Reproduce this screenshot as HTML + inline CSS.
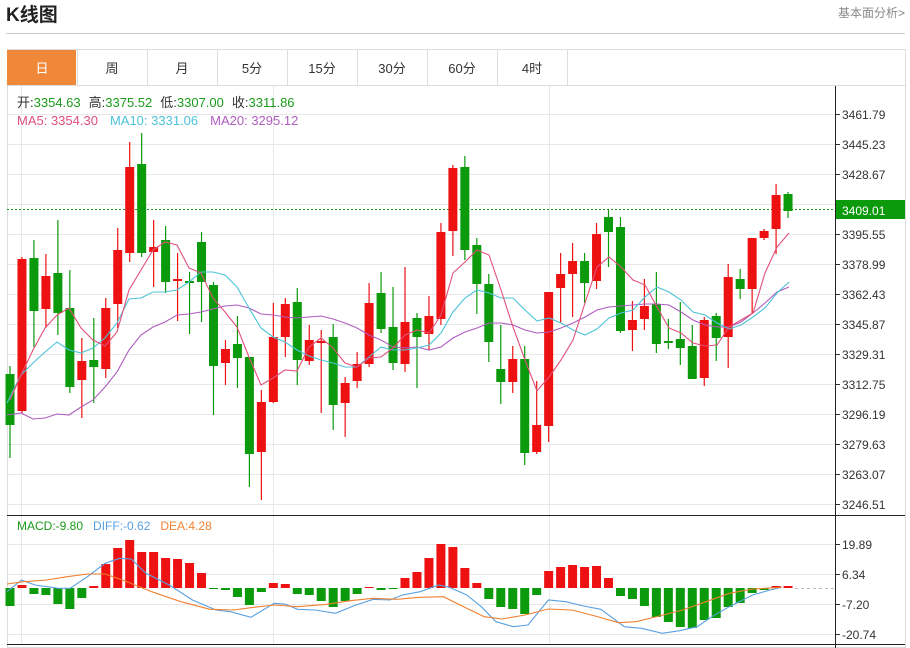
<!DOCTYPE html>
<html><head><meta charset="utf-8"><style>
body{margin:0;width:910px;height:648px;background:#fff;overflow:hidden;font-family:"Liberation Sans","Noto Sans CJK SC",sans-serif;}
</style></head><body>
<svg id="s" width="910" height="648" xmlns="http://www.w3.org/2000/svg" style="position:absolute;left:0;top:0;font-family:'Liberation Sans','Noto Sans CJK SC',sans-serif">
<text x="6" y="21" font-size="19" font-weight="bold" fill="#222">K线图</text>
<text x="838" y="17" font-size="12" fill="#888">基本面分析&gt;</text>
<line x1="6" y1="33.5" x2="905" y2="33.5" stroke="#ccc"/>
<rect x="7.5" y="49.5" width="898" height="598" fill="none" stroke="#ddd"/>
<line x1="7" y1="85.5" x2="905" y2="85.5" stroke="#ddd"/>
<rect x="7" y="50" width="69" height="35" fill="#f0883a"/>
<g id="tabs"></g>
<g id="g"></g>
</svg>
<script>
var s=document.getElementById('g'),h='';
var tabs=['日','周','月','5分','15分','30分','60分','4时'];
var th='';
for(var i=0;i<8;i++){var x=7+i*70;th+='<text x="'+(x+35)+'" y="73" font-size="13" text-anchor="middle" fill="'+(i==0?'#fff':'#333')+'">'+tabs[i]+'</text>';
th+='<line x1="'+(x+70.5)+'" y1="50" x2="'+(x+70.5)+'" y2="85" stroke="#ddd"/>';}
document.getElementById('tabs').innerHTML=th;
// grid
var pl=['3461.79','3445.23','3428.67','3412.11','3395.55','3378.99','3362.43','3345.87','3329.31','3312.75','3296.19','3279.63','3263.07','3246.51'];
for(var i=0;i<14;i++){var y=114+i*30;h+='<line x1="7" y1="'+(y+.5)+'" x2="835" y2="'+(y+.5)+'" stroke="#e8e8e8"/>';
h+='<line x1="835" y1="'+(y+.5)+'" x2="840" y2="'+(y+.5)+'" stroke="#333"/><text x="842" y="'+(y+5)+'" font-size="12" fill="#333">'+pl[i]+'</text>';}
var ml=['19.89','6.34','-7.20','-20.74'];
for(var i=0;i<4;i++){var y=544+i*30;h+='<line x1="7" y1="'+(y+.5)+'" x2="835" y2="'+(y+.5)+'" stroke="#e8e8e8"/>';
h+='<line x1="835" y1="'+(y+.5)+'" x2="840" y2="'+(y+.5)+'" stroke="#333"/><text x="842" y="'+(y+5)+'" font-size="12" fill="#333">'+ml[i]+'</text>';}
[21,273,549].forEach(function(x){h+='<line x1="'+(x+.5)+'" y1="86" x2="'+(x+.5)+'" y2="644" stroke="#e8e8e8"/>';});
h+='<line x1="7" y1="515.5" x2="905" y2="515.5" stroke="#222"/><line x1="7" y1="644.5" x2="905" y2="644.5" stroke="#222"/>';
h+='<line x1="835.5" y1="86" x2="835.5" y2="648" stroke="#222"/>';
h+='<line x1="7" y1="209.5" x2="835" y2="209.5" stroke="#1a9a1a" stroke-dasharray="2,2"/>';
// candles: x, bodyTop, bodyBot, wickTop, wickBot, color
var C=[[374,425,366,458,0],[259,411,257,413,1],[258,311,240,347,0],[276,309,254,328,1],[273,313,220,335,0],[308,387,270,393,0],[361,380,338,418,1],[360,367,318,403,0],[308,369,298,378,1],[250,304,228,328,1],[167,253,142,262,1],[164,253,133,257,0],[247,252,220,287,1],[240,282,226,293,0],[279,281,253,321,1],[281,283,272,334,0],[242,282,232,322,0],[285,366,282,415,0],[349,363,340,385,1],[344,358,316,388,0],[357,454,357,487,0],[402,452,390,500,1],[337,402,303,403,1],[304,337,298,357,1],[302,360,288,385,0],[340,361,325,365,1],[341,342,330,413,1],[337,405,324,430,0],[383,403,377,437,1],[364,381,352,388,1],[303,364,283,367,1],[293,329,272,333,0],[327,363,287,370,0],[322,364,267,372,1],[318,337,313,388,0],[316,334,296,350,1],[232,319,223,325,1],[168,231,165,256,1],[167,250,156,260,0],[245,284,238,314,0],[284,342,274,362,0],[369,382,325,404,0],[359,382,346,393,1],[359,453,346,465,0],[425,452,381,454,1],[292,426,292,442,1],[274,288,253,323,1],[261,274,243,317,1],[261,283,253,303,0],[234,281,223,289,1],[217,232,210,267,0],[227,331,217,333,0],[320,330,301,351,1],[306,319,279,330,1],[304,344,272,353,0],[341,343,319,349,0],[339,348,302,365,0],[346,379,325,379,0],[320,378,317,386,1],[316,338,313,361,0],[277,337,264,368,1],[279,289,269,299,0],[238,289,238,313,1],[231,238,229,240,1],[195,229,184,254,1],[194,211,192,218,0]];
function X(i){return 10+i*11.97;}
C.forEach(function(c,i){var x=X(i),col=c[4]?'#ee1111':'#0b9a0b';
h+='<line x1="'+x+'" y1="'+c[2]+'" x2="'+x+'" y2="'+c[3]+'" stroke="'+col+'" stroke-width="1.2"/>';
h+='<rect x="'+(x-4.5)+'" y="'+c[0]+'" width="9" height="'+Math.max(2,c[1]-c[0])+'" fill="'+col+'"/>';});
function pl2(pts,col){return '<polyline points="'+pts.map(function(p){return p.join(',')}).join(' ')+'" fill="none" stroke="'+col+'" stroke-width="1.1"/>';}
var m5=[[10,400],[21,375],[33,350],[45,328],[57,315],[69,308],[81,328],[93,340],[105,346],[117,332],[129,290],[141,270],[153,250],[165,242],[177,245],[189,268],[201,273],[213,298],[225,312],[237,327],[249,357],[261,385],[273,378],[285,370],[297,371],[309,347],[321,338],[333,348],[345,363],[357,367],[369,358],[381,357],[393,348],[405,335],[417,330],[429,333],[441,315],[453,273],[465,262],[477,250],[489,255],[501,290],[513,327],[525,360],[537,391],[549,377],[561,360],[573,340],[585,303],[597,267],[609,257],[621,267],[633,280],[645,285],[657,307],[669,328],[681,333],[693,343],[705,346],[717,345],[729,327],[741,320],[753,313],[765,273],[777,247],[789,233]];
var m10=[[7,403],[21,375],[33,363],[45,352],[57,342],[69,350],[81,353],[93,348],[105,338],[117,323],[129,299],[141,298],[153,292],[165,292],[177,290],[189,282],[201,272],[213,272],[225,275],[237,287],[249,308],[261,328],[273,337],[285,342],[297,350],[309,356],[321,360],[333,363],[345,367],[357,367],[369,357],[381,347],[393,350],[405,350],[417,348],[429,345],[441,333],[453,312],[465,298],[477,290],[489,293],[501,298],[513,298],[525,310],[537,321],[549,318],[561,323],[573,330],[585,335],[597,329],[609,318],[621,313],[633,310],[645,297],[657,287],[669,292],[681,300],[693,312],[705,315],[717,323],[729,329],[741,325],[753,317],[765,308],[777,293],[789,282]];
var m20=[[7,415],[21,413],[33,419],[45,418],[57,414],[69,415],[81,407],[93,400],[105,387],[117,372],[129,350],[141,335],[153,327],[165,322],[177,315],[189,314],[201,312],[213,309],[225,306],[237,305],[249,308],[261,314],[273,315],[285,317],[297,318],[309,317],[321,316],[333,319],[345,323],[357,328],[369,335],[381,340],[393,347],[405,348],[417,347],[429,350],[441,347],[453,338],[465,332],[477,328],[489,323],[501,323],[513,325],[525,330],[537,333],[549,332],[561,328],[573,323],[585,317],[597,310],[609,307],[621,306],[633,305],[645,304],[657,304],[669,305],[681,312],[693,320],[705,325],[717,327],[729,327],[741,322],[753,313],[765,303],[777,292],[789,287]];
h+=pl2(m20,'#b05cc0')+pl2(m10,'#4cc3d9')+pl2(m5,'#e0507a');
// MACD
var M=[606,585,594,595,604,609,598,586,564,548,540,552,552,558,559,563,573,588,590,597,605,592,583,584,594,595,601,607,601,594,587,590,589,578,572,558,544,547,568,583,599,607,609,614,595,571,567,565,567,566,578,596,599,606,617,622,627,628,620,618,607,603,593,590,586,586];
M.forEach(function(y,i){var x=X(i);var g=y>=588;var top=g?588:y,ht=Math.abs(y-588);if(ht<1)ht=1;
h+='<rect x="'+(x-4.5)+'" y="'+top+'" width="9" height="'+ht+'" fill="'+(g?'#0b9a0b':'#ee1111')+'"/>';});
h+='<line x1="795" y1="588.5" x2="835" y2="588.5" stroke="#bbb" stroke-dasharray="3,3"/>';
function cv(a){return a.map(function(p){return [(p[0]/1.714).toFixed(1),(p[1]/3+510).toFixed(1)];});}
var diff=cv([[12,245],[37,210],[60,225],[100,235],[120,235],[150,200],[180,160],[205,145],[225,147],[250,190],[290,225],[330,270],[370,300],[395,305],[430,322],[470,280],[490,283],[510,298],[540,300],[575,310],[610,285],[640,268],[668,270],[690,255],[720,245],[752,225],[770,232],[800,255],[825,290],[850,335],[880,350],[905,345],[940,270],[970,275],[1000,288],[1030,298],[1070,350],[1100,355],[1135,370],[1165,362],[1195,350],[1220,320],[1250,290],[1290,255],[1320,240],[1340,232]]);
var dea=cv([[12,222],[40,215],[80,210],[115,200],[150,192],[180,192],[210,210],[260,245],[310,275],[360,298],[400,300],[430,293],[470,285],[510,290],[560,283],[600,272],[640,265],[680,268],[720,262],[760,260],[800,295],[830,320],[860,327],[900,315],[940,297],[980,300],[1020,318],[1060,338],[1090,335],[1130,318],[1170,300],[1210,275],[1250,250],[1290,237],[1340,232]]);
h+=pl2(diff,'#5aa0e0')+pl2(dea,'#f08030');
// price tag
h+='<rect x="836" y="200" width="69" height="19" fill="#0b9a0b"/><text x="842" y="215" font-size="12" fill="#fff">3409.01</text>';
// legends
h+='<text x="17" y="107" font-size="13"><tspan fill="#333">开:</tspan><tspan fill="#1a9a1a">3354.63</tspan><tspan fill="#333" dx="8">高:</tspan><tspan fill="#1a9a1a">3375.52</tspan><tspan fill="#333" dx="8">低:</tspan><tspan fill="#1a9a1a">3307.00</tspan><tspan fill="#333" dx="8">收:</tspan><tspan fill="#1a9a1a">3311.86</tspan></text>';
h+='<text x="17" y="125" font-size="13"><tspan fill="#e0507a">MA5: 3354.30</tspan><tspan fill="#4cc3d9" dx="12">MA10: 3331.06</tspan><tspan fill="#b05cc0" dx="12">MA20: 3295.12</tspan></text>';
h+='<text x="17" y="530" font-size="12"><tspan fill="#1a9a1a">MACD:-9.80</tspan><tspan fill="#5aa0e0" dx="10">DIFF:-0.62</tspan><tspan fill="#f08030" dx="10">DEA:4.28</tspan></text>';
s.innerHTML=h;
</script>
</body></html>
